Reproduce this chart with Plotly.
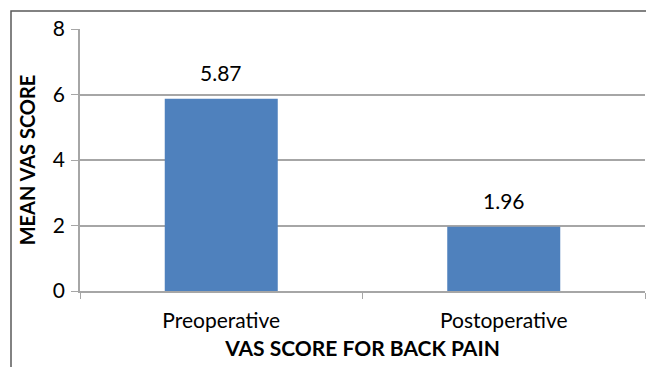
import plotly.graph_objects as go

# Mean VAS score for back pain before and after surgery
categories = ["Preoperative", "Postoperative"]
mean_vas = [5.87, 1.96]
y_ticks = [0, 2, 4, 6, 8]

W, H = 646, 367
L, R, T, B = 80, 1, 29, 76
pw = W - L - R
ph = H - T - B

font_family = "Lato, 'Open Sans', 'Liberation Sans', sans-serif"
axis_grey = "#A6A6A6"

fig = go.Figure(
    go.Bar(
        x=categories,
        y=mean_vas,
        marker=dict(color="#4F81BD", line=dict(width=0)),
        width=0.4,
        hoverinfo="x+y",
    )
)

# Value labels above each bar
for cat, v in zip(categories, mean_vas):
    fig.add_annotation(
        x=cat,
        y=v,
        text=f"{v:.2f}",
        showarrow=False,
        yanchor="bottom",
        yshift=12,
        font=dict(size=21, color="#000000", family=font_family),
    )

fig.update_layout(
    width=W,
    height=H,
    margin=dict(l=L, r=R, t=T, b=B),
    paper_bgcolor="white",
    plot_bgcolor="white",
    showlegend=False,
    font=dict(family=font_family, color="#000000"),
    xaxis=dict(
        type="category",
        range=[-0.5, 1.5],
        showline=True,
        linecolor=axis_grey,
        linewidth=1.5,
        ticks="outside",
        tickson="boundaries",
        ticklen=6,
        tickcolor=axis_grey,
        tickfont=dict(size=21),
        ticklabelstandoff=10,
        showgrid=False,
        title=dict(text="<b>VAS SCORE FOR BACK PAIN</b>", font=dict(size=21), standoff=10),
    ),
    yaxis=dict(
        range=[0, 8],
        tickvals=y_ticks,
        showline=True,
        linecolor=axis_grey,
        linewidth=1.5,
        ticks="outside",
        ticklen=7,
        tickcolor=axis_grey,
        tickfont=dict(size=21),
        ticklabelstandoff=2,
        showgrid=True,
        gridcolor=axis_grey,
        gridwidth=1.5,
        zeroline=False,
        title=dict(text="<b>MEAN VAS SCORE</b>", font=dict(size=20), standoff=12),
    ),
)

# Outer chart border (left and top edges visible; right/bottom run off the page)
fig.add_shape(
    type="rect",
    xref="paper",
    yref="paper",
    x0=(11 - L) / pw,
    x1=(W + 5 - L) / pw,
    y0=-(H + 5 - T - ph) / ph,
    y1=(H - 11 - B) / ph,
    line=dict(color="#5A5A5A", width=1.5),
    fillcolor="rgba(0,0,0,0)",
    layer="above",
)

fig.write_html("out.html")
